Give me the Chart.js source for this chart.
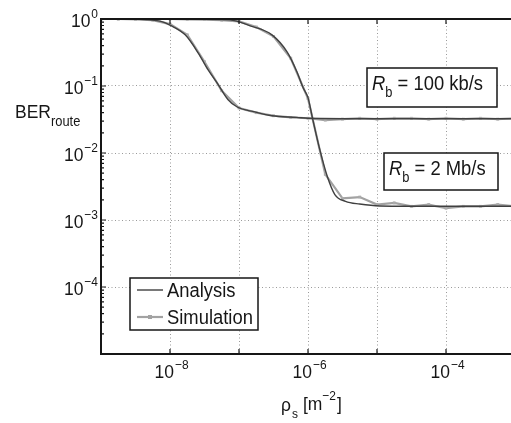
<!DOCTYPE html>
<html>
<head>
<meta charset="utf-8">
<script src="https://cdn.jsdelivr.net/npm/chart.js@4.4.1/dist/chart.umd.min.js"></script>
<style>
  html, body { margin: 0; padding: 0; background: #fff; overflow: hidden; }
  #wrap { width: 540px; height: 423px; }
</style>
</head>
<body>
<div id="wrap"><canvas id="ber" width="540" height="423"></canvas></div>
<script>
// rho_s [m^-2] and route BER, analytical curves
const rhoAnalysis100k = [1e-9, 2.9e-9, 5e-9, 7.2e-9, 1e-8, 1.66e-8, 2.57e-8, 3.55e-8, 5e-8, 6.9e-8, 9.3e-8, 1.7e-7, 3e-7, 6.9e-7, 1e-6, 1e-5, 1e-4, 1e-3];
const berAnalysis100k = [1.0, 1.0, 0.97, 0.93, 0.81, 0.58, 0.31, 0.175, 0.105, 0.063, 0.049, 0.041, 0.036, 0.034, 0.033, 0.0325, 0.0325, 0.0325];

const rhoAnalysis2M = [1e-9, 3e-8, 7.4e-8, 1.45e-7, 3e-7, 5e-7, 6.9e-7, 8.5e-7, 1e-6, 1.17e-6, 1.48e-6, 1.9e-6, 2.45e-6, 3.5e-6, 5.6e-6, 1.1e-5, 1e-4, 1e-3];
const berAnalysis2M = [1.0, 0.99, 0.97, 0.79, 0.58, 0.32, 0.163, 0.094, 0.067, 0.032, 0.0113, 0.0045, 0.0024, 0.0019, 0.00173, 0.00162, 0.0016, 0.0016];

// simulated points (quarter-decade steps)
const rhoSim = [1e-9, 1.78e-9, 3.16e-9, 5.62e-9, 1e-8, 1.78e-8, 3.16e-8, 5.62e-8, 1e-7, 1.78e-7, 3.16e-7, 5.62e-7, 1e-6,
  1.78e-6, 3.16e-6, 5.62e-6, 1e-5, 1.78e-5, 3.16e-5, 5.62e-5, 1e-4, 1.78e-4, 3.16e-4, 5.62e-4, 1e-3];
const berSim100k = [1.0, 1.0, 0.99, 0.96, 0.84, 0.58, 0.23, 0.085, 0.047, 0.040, 0.036, 0.034, 0.033,
  0.031, 0.032, 0.033, 0.032, 0.033, 0.033, 0.032, 0.033, 0.032, 0.033, 0.032, 0.033];
const berSim2M = [1.0, 1.0, 1.0, 1.0, 1.0, 0.99, 0.98, 0.96, 0.92, 0.76, 0.55, 0.26, 0.065,
  0.0048, 0.0021, 0.0022, 0.0017, 0.0018, 0.0016, 0.0017, 0.0015, 0.0016, 0.0016, 0.0017, 0.0016];

const xTicks = [1e-9, 1e-8, 1e-7, 1e-6, 1e-5, 1e-4, 1e-3];
const xTickLabels = ['', '−8', '', '−6', '', '−4', ''];
const yTicks = [1e-5, 1e-4, 1e-3, 1e-2, 1e-1, 1];
const yTickLabels = ['', '−4', '−3', '−2', '−1', '0'];

const legendLabels = ['Analysis', 'Simulation'];
const notes = [
  { rate: '100 kb/s', box: [367, 68, 130, 39] },
  { rate: '2 Mb/s', box: [384, 153, 114, 37] }
];

const FONT = '"Liberation Sans", Arial, sans-serif';
const SQ = 0.92; // narrow lettering
const INK = '#161616';
const ANA = '#404040';
const SIM = '#a2a2a2';

const pts = (xs, ys) => xs.map((x, i) => ({ x: x, y: ys[i] }));

function textW(ctx, s, size, italic) {
  ctx.font = (italic ? 'italic ' : '') + size + 'px ' + FONT;
  return ctx.measureText(s).width * SQ;
}

function txt(ctx, s, x, y, size, italic) {
  ctx.save();
  ctx.font = (italic ? 'italic ' : '') + size + 'px ' + FONT;
  ctx.textBaseline = 'middle';
  ctx.textAlign = 'left';
  ctx.translate(x, y);
  ctx.scale(SQ, 1);
  ctx.fillText(s, 0, 0);
  ctx.restore();
  return x + textW(ctx, s, size, italic);
}

function pow10(ctx, exp, x, y, align) {
  const wb = textW(ctx, '10', 19), we = textW(ctx, exp, 13);
  let x0 = align === 'right' ? x - wb - we : x - (wb + we) / 2;
  x0 = txt(ctx, '10', x0, y, 19);
  txt(ctx, exp, x0 + 1, y - 8, 13);
}

const decor = {
  id: 'decor',
  afterDatasetsDraw(chart) {
    const ctx = chart.ctx, a = chart.chartArea;
    const xs = chart.scales.x, ys = chart.scales.y;
    ctx.save();
    ctx.strokeStyle = INK;
    ctx.fillStyle = INK;

    // ticks, inward
    ctx.lineWidth = 1.2;
    ctx.beginPath();
    xTicks.forEach(v => {
      const px = xs.getPixelForValue(v);
      ctx.moveTo(px, a.bottom); ctx.lineTo(px, a.bottom - 5);
      ctx.moveTo(px, a.top); ctx.lineTo(px, a.top + 5);
    });
    yTicks.forEach(v => {
      const py = ys.getPixelForValue(v);
      ctx.moveTo(a.left, py); ctx.lineTo(a.left + 5, py);
      for (let m = 2; m <= 9; m++) {
        if (v * m > 1) break;
        const pm = ys.getPixelForValue(v * m);
        ctx.moveTo(a.left, pm); ctx.lineTo(a.left + 3, pm);
      }
    });
    ctx.stroke();

    // frame
    ctx.lineWidth = 2;
    ctx.strokeRect(a.left, a.top, a.right - a.left, a.bottom - a.top);

    // tick labels
    yTicks.forEach((v, i) => {
      if (yTickLabels[i]) pow10(ctx, yTickLabels[i], 97, ys.getPixelForValue(v) + 3, 'right');
    });
    xTicks.forEach((v, i) => {
      if (xTickLabels[i]) pow10(ctx, xTickLabels[i], xs.getPixelForValue(v) + 1, 373, 'center');
    });

    // axis titles
    let cx = txt(ctx, 'BER', 15, 113, 19);
    txt(ctx, 'route', cx, 122, 14);
    cx = txt(ctx, 'ρ', 281, 406, 19);
    cx = txt(ctx, 's', cx + 1, 414, 13);
    cx = txt(ctx, '[m', cx + 5, 405, 19);
    cx = txt(ctx, '−2', cx, 396, 13);
    txt(ctx, ']', cx + 1, 405, 19);

    // rate annotations
    notes.forEach(n => {
      const [bx, by, bw, bh] = n.box;
      ctx.fillStyle = '#fff';
      ctx.fillRect(bx, by, bw, bh);
      ctx.lineWidth = 1.5;
      ctx.strokeRect(bx, by, bw, bh);
      ctx.fillStyle = INK;
      let tx = txt(ctx, 'R', bx + 5, by + 16, 20, true);
      tx = txt(ctx, 'b', tx, by + 25, 14);
      txt(ctx, ' = ' + n.rate, tx, by + 16, 20);
    });

    // legend
    const lx = 130, ly = 278, lw = 128, lh = 52;
    ctx.fillStyle = '#fff';
    ctx.fillRect(lx, ly, lw, lh);
    ctx.lineWidth = 1.5;
    ctx.strokeRect(lx, ly, lw, lh);
    ctx.lineWidth = 1.4;
    ctx.strokeStyle = ANA;
    ctx.beginPath(); ctx.moveTo(137, 290); ctx.lineTo(163, 290); ctx.stroke();
    ctx.lineWidth = 2.2;
    ctx.strokeStyle = SIM;
    ctx.beginPath(); ctx.moveTo(137, 317); ctx.lineTo(163, 317); ctx.stroke();
    ctx.fillStyle = SIM;
    ctx.fillRect(148, 315, 4, 4);
    ctx.fillStyle = INK;
    txt(ctx, legendLabels[0], 167, 291, 20);
    txt(ctx, legendLabels[1], 167, 318, 20);
    ctx.restore();
  }
};

const simStyle = {
  borderColor: SIM, backgroundColor: SIM, borderWidth: 2.2,
  pointStyle: 'rect', pointRadius: 2, pointBorderWidth: 0, pointBackgroundColor: '#ababab',
  tension: 0, order: 2
};
const anaStyle = {
  borderColor: ANA, borderWidth: 1.4, pointRadius: 0,
  cubicInterpolationMode: 'monotone', order: 1
};

new Chart(document.getElementById('ber'), {
  type: 'line',
  data: {
    datasets: [
      Object.assign({ label: 'Simulation 100 kb/s', data: pts(rhoSim, berSim100k) }, simStyle),
      Object.assign({ label: 'Simulation 2 Mb/s', data: pts(rhoSim, berSim2M) }, simStyle),
      Object.assign({ label: 'Analysis 100 kb/s', data: pts(rhoAnalysis100k, berAnalysis100k) }, anaStyle),
      Object.assign({ label: 'Analysis 2 Mb/s', data: pts(rhoAnalysis2M, berAnalysis2M) }, anaStyle)
    ]
  },
  options: {
    responsive: false,
    animation: false,
    layout: { padding: { left: 101, top: 19, right: 25, bottom: 69 } },
    plugins: { legend: { display: false }, tooltip: { enabled: false } },
    scales: {
      x: {
        type: 'logarithmic', min: 1e-9, max: 1e-3,
        afterBuildTicks: s => { s.ticks = xTicks.map(v => ({ value: v })); },
        afterFit: s => { s.height = 0; },
        ticks: { display: false },
        grid: { color: '#9a9a9a', lineWidth: 1, drawTicks: false },
        border: { display: false, dash: [1, 2.5] }
      },
      y: {
        type: 'logarithmic', min: 1e-5, max: 1,
        afterBuildTicks: s => { s.ticks = yTicks.map(v => ({ value: v })); },
        afterFit: s => { s.width = 0; },
        ticks: { display: false },
        grid: { color: '#9a9a9a', lineWidth: 1, drawTicks: false },
        border: { display: false, dash: [1, 2.5] }
      }
    }
  },
  plugins: [decor]
});
</script>
</body>
</html>
